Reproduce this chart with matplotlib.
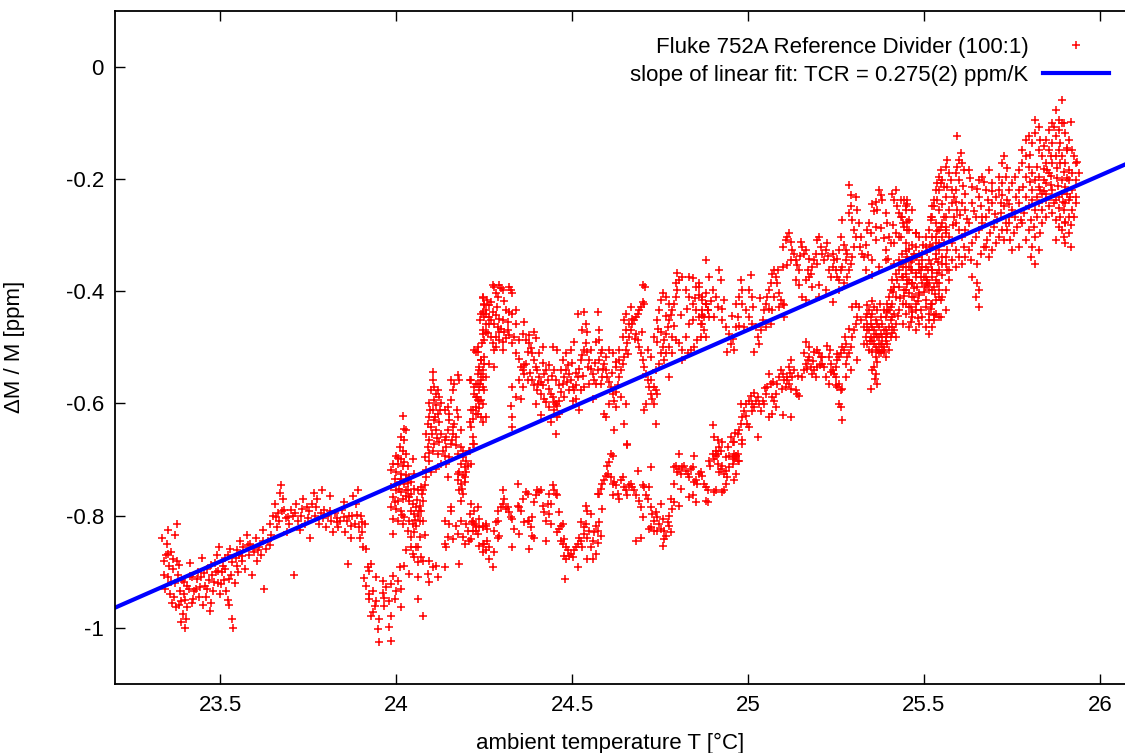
import numpy as np
import matplotlib
matplotlib.use('Agg')
import matplotlib.pyplot as plt
from matplotlib.ticker import FormatStrFormatter

# Ratio deviation dM/M [ppm] against ambient temperature T [degC], grouped by part of the run

cool_plateau = [
    (23.335, -0.84), (23.338, -0.88), (23.34, -0.905), (23.342, -0.93), (23.345, -0.87), (23.347, -0.85),
    (23.35, -0.825), (23.352, -0.91), (23.355, -0.89), (23.357, -0.94), (23.36, -0.865), (23.362, -0.955),
    (23.365, -0.895), (23.367, -0.945), (23.37, -0.835), (23.372, -0.92), (23.375, -0.815), (23.377, -0.88),
    (23.38, -0.905), (23.382, -0.96), (23.385, -0.935), (23.387, -0.99), (23.39, -0.915), (23.392, -0.975),
    (23.395, -0.94), (23.398, -1.0), (23.40, -0.95), (23.402, -0.985), (23.405, -0.925), (23.41, -0.93),
    (23.413, -0.885), (23.418, -0.955), (23.42, -0.91), (23.425, -0.935), (23.43, -0.93), (23.435, -0.9),
    (23.44, -0.945), (23.445, -0.91), (23.448, -0.875), (23.45, -0.96), (23.455, -0.925), (23.46, -0.945),
    (23.463, -0.895), (23.467, -0.915), (23.47, -0.97), (23.473, -0.955), (23.477, -0.905), (23.48, -0.935),
    (23.483, -0.885), (23.487, -0.9), (23.49, -0.87), (23.493, -0.92), (23.497, -0.855), (23.50, -0.94),
    (23.503, -0.9), (23.506, -0.89), (23.51, -0.915), (23.513, -0.875), (23.516, -0.935), (23.52, -0.95),
    (23.522, -0.87), (23.525, -0.96), (23.528, -0.86), (23.53, -0.905), (23.533, -0.985), (23.536, -1.0),
    (23.54, -0.92), (23.543, -0.875), (23.546, -0.89), (23.55, -0.9), (23.553, -0.87), (23.556, -0.845),
    (23.56, -0.88), (23.565, -0.855), (23.57, -0.895), (23.575, -0.835), (23.58, -0.87), (23.585, -0.85),
    (23.59, -0.905), (23.595, -0.865), (23.60, -0.84), (23.605, -0.88), (23.61, -0.855), (23.615, -0.87),
    (23.62, -0.825), (23.625, -0.93), (23.63, -0.86), (23.635, -0.845), (23.64, -0.815), (23.645, -0.835),
    (23.65, -0.8), (23.655, -0.78), (23.66, -0.82), (23.663, -0.795), (23.667, -0.81), (23.67, -0.76),
    (23.673, -0.745), (23.677, -0.77), (23.68, -0.79), (23.685, -0.805), (23.69, -0.83), (23.695, -0.815),
    (23.70, -0.79), (23.705, -0.8), (23.71, -0.905), (23.715, -0.78), (23.72, -0.81), (23.725, -0.825),
    (23.73, -0.8), (23.735, -0.77), (23.74, -0.815), (23.745, -0.785), (23.75, -0.805), (23.755, -0.84),
    (23.76, -0.78), (23.765, -0.76), (23.77, -0.8), (23.775, -0.77), (23.78, -0.815), (23.785, -0.795),
    (23.79, -0.755), (23.795, -0.79), (23.80, -0.82), (23.805, -0.8), (23.81, -0.765), (23.815, -0.81),
    (23.82, -0.83), (23.825, -0.795), (23.83, -0.805), (23.835, -0.82), (23.84, -0.81), (23.845, -0.79),
    (23.85, -0.775), (23.855, -0.83), (23.86, -0.81), (23.865, -0.8), (23.87, -0.84), (23.875, -0.8),
    (23.878, -0.765), (23.882, -0.815), (23.886, -0.78), (23.89, -0.755), (23.893, -0.82), (23.896, -0.84),
    (23.90, -0.8), (23.903, -0.83), (23.906, -0.855), (23.91, -0.815), (23.915, -0.86),
    (23.352, -0.868), (23.358, -0.918), (23.366, -0.878), (23.373, -0.962), (23.381, -0.888), (23.389, -0.952),
    (23.397, -0.918), (23.404, -0.962), (23.412, -0.908), (23.422, -0.948), (23.432, -0.912), (23.442, -0.928),
    (23.452, -0.902), (23.462, -0.93), (23.472, -0.888), (23.482, -0.918), (23.492, -0.898), (23.502, -0.922),
    (23.512, -0.895), (23.524, -0.912), (23.534, -0.882), (23.548, -0.862), (23.562, -0.872), (23.578, -0.852),
    (23.592, -0.858), (23.606, -0.862), (23.622, -0.845), (23.642, -0.852), (23.658, -0.802), (23.676, -0.792),
    (23.692, -0.802), (23.712, -0.795), (23.732, -0.788), (23.752, -0.792), (23.772, -0.785), (23.792, -0.805),
    (23.812, -0.792), (23.832, -0.812), (23.852, -0.802), (23.872, -0.818), (23.888, -0.798), (23.902, -0.812),
]

first_drop = [
    (23.928, -0.886), (23.923, -0.898), (23.909, -0.911), (23.942, -0.909), (23.914, -0.925), (23.933, -0.934),
    (23.921, -0.940), (23.961, -0.937), (23.966, -0.946), (23.985, -0.922), (23.990, -0.907), (24.009, -0.892),
    (24.023, -0.889), (24.004, -0.916), (24.014, -0.931), (23.980, -0.952), (23.995, -0.949), (23.942, -0.952),
    (23.938, -0.961), (23.933, -0.972), (23.928, -0.978), (23.952, -0.984), (23.947, -1.002), (23.985, -0.978),
    (23.980, -0.999), (24.014, -0.963), (23.952, -1.026), (23.985, -1.023), (24.061, -0.949), (24.075, -0.978),
    (23.862, -0.886), (23.919, -0.892), (23.961, -0.916), (23.971, -0.928), (23.999, -0.934), (23.923, -0.949),
    (23.966, -0.961),
]

warmup_streaks = [
    (24.018, -0.623), (24.023, -0.645), (24.028, -0.648), (24.014, -0.660), (24.023, -0.666), (24.009, -0.678),
    (24.018, -0.684), (24.028, -0.690), (23.999, -0.693), (24.014, -0.699), (24.004, -0.708), (24.023, -0.705),
    (24.033, -0.711), (23.990, -0.708), (23.985, -0.719), (23.999, -0.722), (24.014, -0.725), (24.028, -0.728),
    (24.037, -0.731), (23.995, -0.734), (24.009, -0.740), (24.023, -0.743), (23.985, -0.749), (23.999, -0.755),
    (24.014, -0.758), (24.028, -0.755), (23.990, -0.767), (24.004, -0.773), (24.018, -0.770), (24.037, -0.767),
    (23.985, -0.785), (23.999, -0.788), (24.014, -0.791), (23.990, -0.806), (24.004, -0.809), (24.023, -0.803),
    (23.990, -0.833), (24.018, -0.815), (24.047, -0.699), (24.051, -0.725), (24.042, -0.740),
    (24.033, -0.755), (24.042, -0.761), (24.051, -0.752), (24.061, -0.755), (24.070, -0.749), (24.080, -0.746),
    (24.037, -0.773), (24.047, -0.779), (24.056, -0.785), (24.066, -0.782), (24.075, -0.773), (24.042, -0.791),
    (24.051, -0.797), (24.061, -0.800), (24.070, -0.791), (24.037, -0.809), (24.047, -0.815), (24.056, -0.818),
    (24.066, -0.809), (24.033, -0.827), (24.051, -0.830), (24.042, -0.838), (24.066, -0.838), (24.056, -0.856),
    (24.047, -0.868), (24.070, -0.874), (24.080, -0.835), (24.061, -0.883), (24.028, -0.862), (24.042, -0.856),
    (24.075, -0.809), (24.085, -0.731), (24.075, -0.755),
    (24.104, -0.544), (24.104, -0.559), (24.108, -0.571), (24.099, -0.577), (24.113, -0.583), (24.118, -0.577),
    (24.122, -0.588), (24.108, -0.594), (24.094, -0.600), (24.113, -0.603), (24.127, -0.600), (24.104, -0.612),
    (24.118, -0.618), (24.094, -0.624), (24.108, -0.630), (24.122, -0.633), (24.099, -0.642), (24.113, -0.648),
    (24.127, -0.654), (24.089, -0.636), (24.085, -0.654), (24.094, -0.666), (24.108, -0.672), (24.122, -0.669),
    (24.137, -0.666), (24.089, -0.678), (24.104, -0.684), (24.118, -0.690), (24.132, -0.684), (24.080, -0.696),
    (24.094, -0.702), (24.141, -0.678), (24.085, -0.719), (24.099, -0.722), (24.113, -0.716), (24.127, -0.708),
    (24.137, -0.612), (24.146, -0.606), (24.156, -0.594), (24.160, -0.577), (24.165, -0.565), (24.156, -0.559),
    (24.175, -0.550), (24.179, -0.559), (24.151, -0.630), (24.165, -0.636), (24.175, -0.624), (24.146, -0.648),
    (24.160, -0.654), (24.170, -0.660), (24.184, -0.648), (24.141, -0.660), (24.156, -0.672), (24.170, -0.675),
    (24.137, -0.693), (24.151, -0.696), (24.141, -0.708), (24.146, -0.731), (24.184, -0.678), (24.175, -0.690),
    (24.189, -0.684),
    (24.189, -0.696), (24.198, -0.702), (24.184, -0.708), (24.194, -0.713), (24.203, -0.711), (24.179, -0.722),
    (24.189, -0.728), (24.198, -0.722), (24.175, -0.737), (24.184, -0.743), (24.194, -0.740), (24.179, -0.755),
    (24.189, -0.761), (24.184, -0.773), (24.212, -0.708), (24.208, -0.684), (24.217, -0.672), (24.175, -0.725),
    (24.246, -0.410), (24.250, -0.425), (24.255, -0.434), (24.241, -0.440), (24.250, -0.446), (24.255, -0.458),
    (24.246, -0.469), (24.260, -0.475), (24.250, -0.487), (24.231, -0.499), (24.227, -0.508), (24.241, -0.523),
    (24.236, -0.535), (24.246, -0.541), (24.231, -0.547), (24.241, -0.559), (24.227, -0.565), (24.246, -0.571),
    (24.236, -0.577), (24.222, -0.583), (24.231, -0.594), (24.208, -0.559), (24.241, -0.594), (24.227, -0.606),
    (24.212, -0.612), (24.231, -0.618), (24.217, -0.627), (24.208, -0.633), (24.236, -0.609), (24.255, -0.624),
    (24.250, -0.529), (24.255, -0.553),
    (24.005, -0.698), (24.012, -0.735), (24.020, -0.712), (24.026, -0.765), (24.008, -0.752), (24.016, -0.798),
    (23.995, -0.775), (24.032, -0.742), (24.058, -0.772), (24.064, -0.792), (24.053, -0.808), (24.072, -0.762),
    (24.097, -0.612), (24.111, -0.625), (24.102, -0.655), (24.116, -0.662), (24.124, -0.612), (24.092, -0.688),
    (24.149, -0.618), (24.162, -0.642), (24.171, -0.612), (24.158, -0.665), (24.186, -0.752), (24.196, -0.732),
    (24.238, -0.452), (24.244, -0.492), (24.239, -0.565), (24.228, -0.588),
]

lower_branch_a = [
    (24.137, -0.809), (24.151, -0.815), (24.146, -0.838), (24.160, -0.841), (24.170, -0.818), (24.184, -0.809),
    (24.198, -0.815), (24.208, -0.797), (24.217, -0.809), (24.227, -0.827), (24.236, -0.821), (24.246, -0.818),
    (24.255, -0.815), (24.189, -0.838), (24.141, -0.856), (24.137, -0.850), (24.179, -0.886), (24.246, -0.850),
    (24.255, -0.862), (24.156, -0.791), (24.156, -0.785), (24.061, -0.856), (24.051, -0.874), (24.075, -0.880),
    (24.094, -0.880), (24.104, -0.892), (24.113, -0.889), (24.137, -0.892), (24.089, -0.904), (24.061, -0.910),
    (24.094, -0.919), (24.118, -0.910), (24.037, -0.904), (24.203, -0.827), (24.212, -0.841), (24.222, -0.815),
    (24.194, -0.850), (24.175, -0.833),
]

lower_branch_b = [
    (24.212, -0.779), (24.221, -0.791), (24.231, -0.785), (24.215, -0.812), (24.226, -0.818), (24.236, -0.806),
    (24.245, -0.821), (24.255, -0.818), (24.259, -0.824), (24.217, -0.827), (24.231, -0.833), (24.207, -0.845),
    (24.236, -0.854), (24.250, -0.851), (24.259, -0.845), (24.264, -0.856), (24.245, -0.865), (24.264, -0.877),
    (24.274, -0.891), (24.278, -0.865), (24.278, -0.827), (24.283, -0.812), (24.288, -0.809), (24.288, -0.791),
    (24.293, -0.836),
    (24.302, -0.755), (24.307, -0.770), (24.302, -0.779), (24.297, -0.785), (24.312, -0.788), (24.321, -0.794),
    (24.326, -0.803), (24.330, -0.806), (24.345, -0.743), (24.345, -0.782), (24.349, -0.785), (24.354, -0.791),
    (24.359, -0.770), (24.368, -0.758), (24.373, -0.761), (24.378, -0.809), (24.383, -0.821), (24.387, -0.803),
    (24.392, -0.776), (24.397, -0.764), (24.401, -0.755), (24.406, -0.758), (24.411, -0.755), (24.416, -0.782),
    (24.420, -0.794), (24.425, -0.809), (24.430, -0.779), (24.435, -0.761), (24.439, -0.815), (24.444, -0.746),
    (24.449, -0.755), (24.454, -0.761), (24.458, -0.764), (24.463, -0.794), (24.468, -0.818), (24.435, -0.797),
    (24.439, -0.779), (24.349, -0.833), (24.387, -0.836), (24.392, -0.839), (24.330, -0.856), (24.378, -0.859),
    (24.425, -0.845), (24.364, -0.812), (24.373, -0.809), (24.335, -0.824), (24.316, -0.785), (24.288, -0.839),
    (24.458, -0.830), (24.463, -0.824), (24.473, -0.815),
    (24.468, -0.845), (24.473, -0.851), (24.477, -0.842), (24.482, -0.856), (24.487, -0.862), (24.491, -0.871),
    (24.496, -0.868), (24.501, -0.874), (24.477, -0.871), (24.482, -0.877), (24.506, -0.862), (24.510, -0.856),
    (24.515, -0.851), (24.520, -0.839), (24.525, -0.845), (24.529, -0.856), (24.525, -0.812), (24.534, -0.821),
    (24.539, -0.815), (24.539, -0.782), (24.543, -0.791), (24.548, -0.827), (24.553, -0.856), (24.558, -0.845),
    (24.562, -0.830), (24.567, -0.818), (24.572, -0.827), (24.576, -0.812), (24.581, -0.836), (24.567, -0.868),
    (24.558, -0.877), (24.572, -0.848), (24.543, -0.877), (24.515, -0.892), (24.480, -0.913), (24.553, -0.797),
    (24.543, -0.839), (24.534, -0.833),
    (24.576, -0.761), (24.581, -0.752), (24.586, -0.743), (24.591, -0.737), (24.596, -0.729), (24.600, -0.711),
    (24.605, -0.705), (24.610, -0.690), (24.615, -0.693), (24.603, -0.726), (24.610, -0.731), (24.615, -0.743),
    (24.619, -0.740), (24.624, -0.746), (24.629, -0.761), (24.634, -0.770), (24.638, -0.737), (24.643, -0.731),
    (24.648, -0.749), (24.652, -0.755), (24.657, -0.764), (24.662, -0.746), (24.667, -0.743), (24.671, -0.749),
    (24.676, -0.755), (24.681, -0.764), (24.686, -0.720), (24.690, -0.773), (24.695, -0.785), (24.700, -0.746),
    (24.705, -0.749), (24.709, -0.764), (24.714, -0.770), (24.719, -0.749), (24.723, -0.714), (24.681, -0.845),
    (24.695, -0.839), (24.700, -0.803), (24.586, -0.788), (24.572, -0.761), (24.615, -0.764), (24.657, -0.675),
    (24.723, -0.785), (24.728, -0.797), (24.733, -0.809), (24.738, -0.794), (24.742, -0.803), (24.747, -0.815),
    (24.752, -0.824), (24.757, -0.806), (24.761, -0.827), (24.766, -0.836), (24.771, -0.812), (24.776, -0.818),
    (24.780, -0.830), (24.761, -0.842), (24.757, -0.854), (24.776, -0.800), (24.785, -0.788), (24.723, -0.821),
    (24.719, -0.824), (24.733, -0.827), (24.742, -0.827), (24.752, -0.779), (24.780, -0.770), (24.790, -0.776),
    (24.804, -0.782),
    (24.790, -0.714), (24.795, -0.711), (24.799, -0.723), (24.804, -0.717), (24.809, -0.726), (24.813, -0.714),
    (24.818, -0.711), (24.823, -0.720), (24.828, -0.726), (24.832, -0.731), (24.837, -0.717), (24.842, -0.714),
    (24.847, -0.740), (24.851, -0.737), (24.856, -0.743), (24.861, -0.726), (24.866, -0.723), (24.870, -0.729),
    (24.875, -0.743), (24.880, -0.749), (24.885, -0.755), (24.889, -0.702), (24.891, -0.711), (24.899, -0.690),
    (24.903, -0.699), (24.908, -0.693), (24.913, -0.708), (24.918, -0.723), (24.922, -0.717), (24.927, -0.711),
    (24.932, -0.726), (24.937, -0.720), (24.941, -0.731), (24.946, -0.714), (24.956, -0.708), (24.960, -0.699),
    (24.965, -0.693), (24.970, -0.690), (24.974, -0.702), (24.965, -0.726), (24.960, -0.737), (24.937, -0.743),
    (24.927, -0.758), (24.932, -0.755), (24.908, -0.755), (24.903, -0.758), (24.885, -0.776), (24.880, -0.773),
    (24.851, -0.776), (24.842, -0.764), (24.832, -0.767), (24.790, -0.743), (24.809, -0.752), (24.804, -0.690),
    (24.847, -0.693), (24.922, -0.684), (24.960, -0.669), (24.984, -0.672),
]

upper_branch_a = [
    (24.212, -0.559), (24.221, -0.571), (24.231, -0.565), (24.236, -0.541), (24.240, -0.547), (24.245, -0.553),
    (24.226, -0.589), (24.236, -0.595), (24.245, -0.601), (24.217, -0.6125), (24.226, -0.618), (24.240, -0.624),
    (24.245, -0.633), (24.212, -0.642), (24.217, -0.660), (24.221, -0.672), (24.207, -0.684), (24.250, -0.577),
    (24.231, -0.508), (24.221, -0.505),
    (24.245, -0.413), (24.250, -0.422), (24.259, -0.416), (24.264, -0.425), (24.269, -0.419), (24.274, -0.389),
    (24.278, -0.392), (24.293, -0.389), (24.297, -0.395), (24.283, -0.404), (24.288, -0.410), (24.302, -0.398),
    (24.321, -0.392), (24.326, -0.398), (24.330, -0.404), (24.245, -0.437), (24.255, -0.440), (24.264, -0.446),
    (24.274, -0.437), (24.283, -0.443), (24.293, -0.449), (24.302, -0.452), (24.312, -0.434), (24.321, -0.437),
    (24.330, -0.440), (24.340, -0.434), (24.264, -0.458), (24.278, -0.458), (24.288, -0.464), (24.297, -0.467),
    (24.307, -0.473), (24.316, -0.470), (24.255, -0.473), (24.245, -0.476), (24.269, -0.482), (24.283, -0.482),
    (24.293, -0.487), (24.302, -0.490), (24.312, -0.484), (24.321, -0.479), (24.330, -0.493), (24.340, -0.458),
    (24.335, -0.482), (24.349, -0.487), (24.359, -0.476), (24.364, -0.455), (24.278, -0.505), (24.264, -0.529),
    (24.278, -0.535), (24.250, -0.517), (24.283, -0.499), (24.302, -0.505), (24.240, -0.523),
    (24.340, -0.511), (24.349, -0.520), (24.354, -0.535), (24.359, -0.541), (24.364, -0.547), (24.368, -0.529),
    (24.373, -0.508), (24.378, -0.493), (24.383, -0.502), (24.387, -0.511), (24.392, -0.523), (24.397, -0.535),
    (24.401, -0.541), (24.406, -0.553), (24.411, -0.562), (24.416, -0.568), (24.420, -0.547), (24.425, -0.541),
    (24.430, -0.559), (24.435, -0.574), (24.439, -0.583), (24.444, -0.589), (24.449, -0.598), (24.454, -0.601),
    (24.458, -0.604), (24.463, -0.595), (24.468, -0.580), (24.473, -0.565), (24.477, -0.553), (24.482, -0.541),
    (24.487, -0.532), (24.491, -0.547), (24.496, -0.559), (24.501, -0.571), (24.506, -0.577), (24.510, -0.568),
    (24.515, -0.553), (24.520, -0.538), (24.525, -0.523), (24.529, -0.514), (24.534, -0.505), (24.539, -0.493),
    (24.543, -0.508), (24.548, -0.523), (24.553, -0.538), (24.558, -0.547), (24.562, -0.559), (24.567, -0.565),
    (24.572, -0.541), (24.576, -0.523), (24.581, -0.511), (24.586, -0.505), (24.349, -0.559), (24.359, -0.571),
    (24.373, -0.559), (24.387, -0.559), (24.392, -0.568), (24.401, -0.577), (24.411, -0.583), (24.420, -0.592),
    (24.425, -0.598), (24.435, -0.607), (24.449, -0.6125), (24.458, -0.624), (24.463, -0.618), (24.477, -0.589),
    (24.491, -0.577), (24.501, -0.595), (24.510, -0.592), (24.525, -0.577), (24.534, -0.571), (24.548, -0.565),
    (24.558, -0.592), (24.520, -0.6125), (24.330, -0.571), (24.340, -0.589), (24.354, -0.592), (24.326, -0.604),
    (24.406, -0.511), (24.416, -0.499), (24.444, -0.499), (24.458, -0.505), (24.473, -0.523), (24.482, -0.511),
    (24.496, -0.505), (24.506, -0.490), (24.529, -0.470), (24.539, -0.458), (24.515, -0.440), (24.534, -0.437),
    (24.572, -0.437), (24.576, -0.470), (24.567, -0.490), (24.553, -0.505), (24.368, -0.487), (24.378, -0.479),
    (24.397, -0.484), (24.392, -0.473), (24.435, -0.532), (24.449, -0.541), (24.454, -0.559), (24.468, -0.541),
    (24.330, -0.642), (24.330, -0.624), (24.454, -0.654), (24.439, -0.633), (24.411, -0.621), (24.397, -0.601),
    (24.591, -0.529), (24.596, -0.541), (24.600, -0.553), (24.605, -0.562), (24.610, -0.571), (24.615, -0.583),
    (24.619, -0.595), (24.624, -0.580), (24.629, -0.568), (24.634, -0.553), (24.638, -0.541), (24.643, -0.529),
    (24.648, -0.517), (24.652, -0.505), (24.657, -0.493), (24.662, -0.482), (24.667, -0.470), (24.671, -0.458),
    (24.676, -0.452), (24.681, -0.446), (24.686, -0.440), (24.690, -0.434), (24.695, -0.428), (24.700, -0.419),
    (24.705, -0.422), (24.707, -0.392), (24.701, -0.389), (24.681, -0.476), (24.686, -0.487), (24.690, -0.499),
    (24.695, -0.511), (24.700, -0.523), (24.705, -0.535), (24.709, -0.547), (24.714, -0.559), (24.719, -0.571),
    (24.723, -0.583), (24.728, -0.592), (24.733, -0.601), (24.723, -0.559), (24.733, -0.571), (24.738, -0.577),
    (24.742, -0.583), (24.738, -0.541), (24.747, -0.529), (24.752, -0.511), (24.757, -0.499), (24.761, -0.487),
    (24.766, -0.476), (24.771, -0.464), (24.776, -0.452), (24.780, -0.443), (24.785, -0.434), (24.790, -0.422),
    (24.795, -0.410), (24.799, -0.398), (24.795, -0.386), (24.804, -0.380), (24.799, -0.368), (24.813, -0.374),
    (24.832, -0.374), (24.842, -0.377), (24.851, -0.392), (24.861, -0.407), (24.870, -0.416), (24.880, -0.422),
    (24.885, -0.434), (24.889, -0.446), (24.823, -0.398), (24.832, -0.410), (24.842, -0.422), (24.851, -0.434),
    (24.861, -0.446), (24.870, -0.458), (24.875, -0.470), (24.880, -0.482), (24.866, -0.482), (24.856, -0.487),
    (24.847, -0.499), (24.837, -0.505), (24.828, -0.511), (24.813, -0.505), (24.804, -0.493), (24.795, -0.487),
    (24.785, -0.482), (24.776, -0.499), (24.766, -0.511), (24.761, -0.523), (24.752, -0.416), (24.757, -0.404),
    (24.766, -0.410), (24.776, -0.422), (24.747, -0.434), (24.742, -0.452), (24.752, -0.473), (24.624, -0.535),
    (24.615, -0.511), (24.605, -0.505), (24.596, -0.517), (24.586, -0.553), (24.581, -0.565), (24.605, -0.601),
    (24.591, -0.618), (24.596, -0.624), (24.624, -0.607), (24.638, -0.589), (24.652, -0.601), (24.705, -0.6125),
    (24.709, -0.601), (24.648, -0.636), (24.619, -0.648), (24.657, -0.672), (24.738, -0.636), (24.543, -0.473),
    (24.576, -0.487), (24.643, -0.482), (24.652, -0.470), (24.662, -0.458), (24.671, -0.449), (24.634, -0.505),
    (24.624, -0.526), (24.723, -0.517), (24.733, -0.482), (24.742, -0.490), (24.776, -0.553), (24.785, -0.511),
    (24.813, -0.523), (24.823, -0.482), (24.832, -0.458), (24.842, -0.452), (24.870, -0.434), (24.880, -0.404),
    (24.861, -0.386), (24.667, -0.428), (24.652, -0.440), (24.648, -0.452),
    (24.268, -0.452), (24.286, -0.428), (24.306, -0.418), (24.318, -0.455), (24.292, -0.472), (24.276, -0.492),
    (24.362, -0.532), (24.381, -0.545), (24.404, -0.565), (24.418, -0.528), (24.442, -0.552), (24.461, -0.568),
    (24.485, -0.562), (24.498, -0.528), (24.512, -0.545), (24.532, -0.552), (24.546, -0.535), (24.565, -0.528),
    (24.588, -0.538), (24.612, -0.545), (24.632, -0.522), (24.659, -0.512), (24.678, -0.485), (24.698, -0.472),
    (24.716, -0.505), (24.745, -0.468), (24.768, -0.445), (24.788, -0.462), (24.808, -0.442), (24.826, -0.432),
    (24.848, -0.412), (24.868, -0.442),
]

upper_branch_b = [
    (24.861, -0.392), (24.870, -0.410), (24.880, -0.422), (24.885, -0.434), (24.875, -0.446), (24.866, -0.458),
    (24.889, -0.374), (24.899, -0.398), (24.908, -0.410), (24.918, -0.363), (24.922, -0.380), (24.913, -0.428),
    (24.903, -0.446), (24.927, -0.452), (24.937, -0.464), (24.946, -0.476), (24.956, -0.485), (24.951, -0.494),
    (24.941, -0.508), (24.960, -0.505), (24.965, -0.464), (24.970, -0.446), (24.965, -0.422), (24.974, -0.410),
    (24.979, -0.380), (24.984, -0.398), (24.993, -0.434), (25.003, -0.446), (25.012, -0.458), (25.022, -0.464),
    (25.027, -0.482), (25.031, -0.494), (25.017, -0.508), (25.036, -0.470), (25.041, -0.452), (25.045, -0.434),
    (25.050, -0.422), (25.055, -0.410), (25.060, -0.398), (25.064, -0.386), (25.069, -0.369), (25.074, -0.363),
    (25.079, -0.374), (25.083, -0.386), (25.088, -0.404), (25.093, -0.416), (25.098, -0.422), (25.102, -0.425),
    (25.102, -0.446), (25.003, -0.398), (25.012, -0.410), (24.989, -0.464), (25.050, -0.464), (25.064, -0.458),
    (25.069, -0.434), (25.088, -0.428), (25.074, -0.410), (24.880, -0.345), (25.008, -0.3715), (24.932, -0.416),
    (24.984, -0.422),
    (25.098, -0.321), (25.107, -0.309), (25.112, -0.303), (25.116, -0.297), (25.121, -0.312), (25.126, -0.327),
    (25.131, -0.333), (25.135, -0.345), (25.140, -0.354), (25.145, -0.363), (25.150, -0.312), (25.154, -0.321),
    (25.159, -0.333), (25.164, -0.327), (25.169, -0.363), (25.173, -0.374), (25.178, -0.369), (25.183, -0.357),
    (25.188, -0.345), (25.192, -0.333), (25.197, -0.309), (25.202, -0.303), (25.206, -0.321), (25.211, -0.333),
    (25.216, -0.345), (25.221, -0.327), (25.225, -0.315), (25.230, -0.363), (25.235, -0.374), (25.240, -0.357),
    (25.244, -0.345), (25.249, -0.363), (25.254, -0.374), (25.258, -0.380), (25.263, -0.363), (25.268, -0.357),
    (25.273, -0.386), (25.277, -0.345), (25.282, -0.333), (25.287, -0.261), (25.292, -0.249), (25.296, -0.273),
    (25.301, -0.291), (25.306, -0.303), (25.301, -0.321), (25.296, -0.339), (25.292, -0.351), (25.287, -0.363),
    (25.282, -0.374), (25.277, -0.327), (25.268, -0.273), (25.263, -0.303), (25.258, -0.327), (25.240, -0.333),
    (25.221, -0.398), (25.202, -0.410), (25.183, -0.392), (25.164, -0.380), (25.135, -0.380), (25.145, -0.389),
    (25.154, -0.410), (25.098, -0.357), (25.112, -0.354), (25.202, -0.389), (25.258, -0.398), (25.240, -0.419),
    (25.164, -0.416), (25.287, -0.211), (25.292, -0.229), (25.306, -0.232), (25.311, -0.255), (25.315, -0.279),
    (25.320, -0.303), (25.325, -0.333), (25.330, -0.339), (25.334, -0.318), (25.339, -0.291), (25.344, -0.279),
    (25.348, -0.297), (25.353, -0.244), (25.358, -0.258), (25.363, -0.241), (25.367, -0.255), (25.372, -0.220),
    (25.377, -0.229), (25.382, -0.238), (25.391, -0.261), (25.396, -0.279), (25.401, -0.303), (25.405, -0.315),
    (25.410, -0.226), (25.415, -0.238), (25.420, -0.220), (25.424, -0.249), (25.429, -0.261), (25.434, -0.267),
    (25.439, -0.279), (25.448, -0.255), (25.453, -0.291), (25.457, -0.273), (25.420, -0.297), (25.415, -0.315),
    (25.391, -0.327), (25.353, -0.345), (25.334, -0.363), (25.353, -0.3715), (25.372, -0.357), (25.391, -0.345),
    (25.386, -0.306), (25.377, -0.288), (25.363, -0.309), (25.429, -0.303), (25.443, -0.238), (25.453, -0.244),
    (25.467, -0.255), (25.476, -0.297),
    (24.895, -0.418), (24.925, -0.432), (24.955, -0.445), (24.975, -0.462), (25.015, -0.428), (25.035, -0.412),
    (25.058, -0.432), (25.085, -0.362), (25.122, -0.345), (25.148, -0.338), (25.172, -0.342), (25.195, -0.352),
    (25.228, -0.338), (25.252, -0.342), (25.272, -0.318), (25.318, -0.322), (25.342, -0.335), (25.365, -0.285),
    (25.398, -0.342), (25.412, -0.282),
]

lower_branch_c = [
    (24.899, -0.639), (24.903, -0.660), (24.908, -0.684), (24.913, -0.690), (24.918, -0.678), (24.927, -0.669),
    (24.937, -0.696), (24.946, -0.693), (24.956, -0.696), (24.960, -0.690), (24.965, -0.693), (24.970, -0.702),
    (24.951, -0.660), (24.956, -0.669), (24.970, -0.654), (24.974, -0.648), (24.979, -0.636), (24.984, -0.624),
    (24.989, -0.613), (24.993, -0.601), (25.003, -0.595), (25.008, -0.586), (25.012, -0.601), (25.017, -0.607),
    (25.022, -0.595), (25.027, -0.589), (25.031, -0.601), (25.036, -0.613), (25.041, -0.595), (25.045, -0.601),
    (25.050, -0.583), (25.055, -0.571), (25.060, -0.547), (25.064, -0.565), (25.069, -0.589), (25.074, -0.595),
    (25.079, -0.583), (25.083, -0.565), (25.088, -0.553), (25.093, -0.541), (25.098, -0.547), (25.102, -0.559),
    (25.107, -0.571), (25.112, -0.559), (25.116, -0.565), (25.121, -0.574), (25.126, -0.553), (25.131, -0.541),
    (25.135, -0.577), (25.140, -0.583), (25.145, -0.586), (25.060, -0.624), (25.069, -0.618), (25.079, -0.607),
    (25.098, -0.621), (25.121, -0.624), (25.027, -0.660), (25.012, -0.613), (24.984, -0.666), (24.979, -0.601),
    (24.998, -0.636), (25.003, -0.642), (25.154, -0.553), (25.159, -0.541), (25.164, -0.529), (25.169, -0.523),
    (25.173, -0.517), (25.178, -0.535), (25.183, -0.547), (25.188, -0.541), (25.192, -0.553), (25.159, -0.511),
    (25.164, -0.491), (25.173, -0.499), (25.188, -0.508), (25.197, -0.505), (25.202, -0.511), (25.206, -0.517),
    (25.211, -0.529), (25.216, -0.535), (25.225, -0.497), (25.230, -0.517), (25.235, -0.529), (25.240, -0.541),
    (25.244, -0.547), (25.249, -0.535), (25.254, -0.523), (25.258, -0.517), (25.263, -0.511), (25.268, -0.499),
    (25.273, -0.505), (25.277, -0.494), (25.282, -0.517), (25.221, -0.553), (25.230, -0.565), (25.235, -0.544),
    (25.249, -0.553), (25.254, -0.571), (25.258, -0.565), (25.263, -0.577), (25.268, -0.574), (25.258, -0.601),
    (25.263, -0.607), (25.268, -0.630), (25.249, -0.568), (25.121, -0.523), (25.116, -0.535), (25.112, -0.553),
    (25.197, -0.535), (25.211, -0.517), (25.277, -0.529), (25.287, -0.511), (25.292, -0.499), (25.296, -0.482),
    (25.301, -0.470), (25.306, -0.458), (25.311, -0.446), (25.315, -0.428), (25.306, -0.422), (25.296, -0.428),
    (25.311, -0.523), (25.292, -0.541), (25.277, -0.553),
    (25.334, -0.446), (25.339, -0.458), (25.344, -0.470), (25.348, -0.482), (25.353, -0.488), (25.358, -0.494),
    (25.363, -0.499), (25.367, -0.505), (25.372, -0.508), (25.377, -0.511), (25.382, -0.505), (25.386, -0.499),
    (25.391, -0.488), (25.396, -0.476), (25.401, -0.464), (25.405, -0.452), (25.410, -0.446), (25.415, -0.440),
    (25.420, -0.458), (25.415, -0.470), (25.405, -0.482), (25.396, -0.494), (25.386, -0.508), (25.377, -0.494),
    (25.367, -0.482), (25.358, -0.470), (25.348, -0.458), (25.339, -0.440), (25.344, -0.434), (25.353, -0.440),
    (25.363, -0.452), (25.372, -0.464), (25.382, -0.458), (25.391, -0.446), (25.401, -0.434), (25.405, -0.428),
    (25.396, -0.422), (25.386, -0.434), (25.377, -0.446), (25.367, -0.434), (25.358, -0.428), (25.348, -0.446),
    (25.334, -0.482), (25.339, -0.494), (25.344, -0.505), (25.353, -0.508), (25.363, -0.517), (25.367, -0.526),
    (25.358, -0.535), (25.363, -0.547), (25.353, -0.541), (25.361, -0.556), (25.367, -0.565), (25.348, -0.574),
    (25.372, -0.482), (25.382, -0.482), (25.391, -0.470), (25.410, -0.464), (25.420, -0.482), (25.339, -0.470),
    (25.330, -0.464), (25.330, -0.494), (25.401, -0.505), (25.391, -0.517), (25.377, -0.476), (25.353, -0.464),
    (25.363, -0.476), (25.372, -0.494), (25.382, -0.494), (25.391, -0.482), (25.367, -0.458), (25.386, -0.470),
    (25.358, -0.482),
    (24.915, -0.665), (24.942, -0.678), (24.962, -0.652), (24.995, -0.622), (25.018, -0.582), (25.048, -0.572),
    (25.072, -0.562), (25.095, -0.575), (25.118, -0.545), (25.142, -0.552), (25.168, -0.538), (25.185, -0.525),
    (25.205, -0.532), (25.232, -0.505), (25.252, -0.512), (25.275, -0.482), (25.288, -0.468), (25.322, -0.452),
    (25.338, -0.425), (25.352, -0.418), (25.375, -0.422), (25.395, -0.438), (25.408, -0.475), (25.346, -0.488),
]

warm_end_a = [
    (25.410, -0.380), (25.420, -0.369), (25.429, -0.363), (25.439, -0.357), (25.448, -0.369), (25.457, -0.380),
    (25.467, -0.386), (25.476, -0.374), (25.486, -0.363), (25.495, -0.357), (25.505, -0.374), (25.514, -0.386),
    (25.524, -0.398), (25.533, -0.380), (25.543, -0.363), (25.552, -0.351), (25.562, -0.339), (25.566, -0.327),
    (25.429, -0.392), (25.448, -0.398), (25.467, -0.410), (25.486, -0.404), (25.505, -0.416), (25.524, -0.422),
    (25.543, -0.410), (25.562, -0.398), (25.420, -0.410), (25.439, -0.422), (25.457, -0.428), (25.476, -0.434),
    (25.495, -0.446), (25.514, -0.452), (25.533, -0.440), (25.410, -0.422), (25.429, -0.434), (25.448, -0.440),
    (25.467, -0.446), (25.486, -0.458), (25.505, -0.464), (25.524, -0.464), (25.543, -0.446), (25.562, -0.434),
    (25.476, -0.470), (25.457, -0.464), (25.439, -0.458), (25.514, -0.476), (25.524, -0.363), (25.533, -0.333),
    (25.543, -0.315), (25.552, -0.303), (25.562, -0.285), (25.524, -0.303), (25.533, -0.279), (25.543, -0.255),
    (25.552, -0.244), (25.562, -0.232), (25.566, -0.214), (25.543, -0.220), (25.547, -0.208), (25.514, -0.291),
    (25.519, -0.273), (25.528, -0.249), (25.538, -0.238), (25.476, -0.339), (25.486, -0.333), (25.495, -0.345),
    (25.514, -0.345), (25.543, -0.386), (25.566, -0.363), (25.562, -0.297), (25.557, -0.267), (25.547, -0.285),
    (25.524, -0.267), (25.467, -0.363), (25.457, -0.357), (25.439, -0.374), (25.424, -0.380), (25.405, -0.398),
    (25.401, -0.410), (25.415, -0.392), (25.429, -0.345), (25.448, -0.345), (25.505, -0.321), (25.486, -0.303),
    (25.476, -0.321), (25.467, -0.339), (25.505, -0.303),
    (25.415, -0.352), (25.433, -0.412), (25.452, -0.388), (25.462, -0.348), (25.472, -0.395), (25.482, -0.418),
    (25.491, -0.375), (25.502, -0.392), (25.512, -0.362), (25.521, -0.432), (25.531, -0.405), (25.541, -0.348),
    (25.551, -0.372), (25.558, -0.315), (25.538, -0.292), (25.518, -0.318), (25.496, -0.318), (25.482, -0.448),
    (25.462, -0.455), (25.442, -0.408), (25.425, -0.445), (25.412, -0.402), (25.448, -0.328), (25.528, -0.452),
]

warm_end_b = [
    (25.434, -0.238), (25.448, -0.249), (25.453, -0.238), (25.438, -0.267), (25.453, -0.276), (25.443, -0.285),
    (25.457, -0.291), (25.434, -0.303), (25.448, -0.315), (25.467, -0.318), (25.476, -0.297), (25.438, -0.333),
    (25.453, -0.339), (25.467, -0.345), (25.481, -0.339), (25.495, -0.333), (25.509, -0.330), (25.524, -0.321),
    (25.533, -0.315), (25.434, -0.351), (25.448, -0.357), (25.462, -0.363), (25.476, -0.368), (25.491, -0.363),
    (25.505, -0.357), (25.519, -0.351), (25.533, -0.342), (25.438, -0.374), (25.453, -0.380), (25.467, -0.386),
    (25.481, -0.392), (25.495, -0.386), (25.509, -0.380), (25.524, -0.374), (25.538, -0.368), (25.443, -0.398),
    (25.457, -0.404), (25.472, -0.410), (25.486, -0.407), (25.500, -0.401), (25.514, -0.398), (25.528, -0.392),
    (25.448, -0.422), (25.462, -0.428), (25.476, -0.422), (25.491, -0.434), (25.505, -0.428), (25.519, -0.422),
    (25.533, -0.416), (25.547, -0.416), (25.467, -0.437), (25.514, -0.440), (25.528, -0.443), (25.547, -0.446),
    (25.509, -0.389), (25.500, -0.374), (25.486, -0.351), (25.472, -0.333), (25.457, -0.324), (25.524, -0.363),
    (25.538, -0.386), (25.543, -0.398), (25.552, -0.410),
    (25.519, -0.267), (25.524, -0.249), (25.528, -0.238), (25.533, -0.220), (25.538, -0.208), (25.543, -0.196),
    (25.547, -0.184), (25.552, -0.202), (25.557, -0.214), (25.562, -0.178), (25.566, -0.166), (25.571, -0.190),
    (25.576, -0.202), (25.581, -0.220), (25.585, -0.232), (25.590, -0.190), (25.595, -0.178), (25.599, -0.166),
    (25.604, -0.154), (25.609, -0.172), (25.614, -0.184), (25.599, -0.202), (25.590, -0.220), (25.581, -0.243),
    (25.571, -0.255), (25.562, -0.267), (25.552, -0.279), (25.543, -0.291), (25.533, -0.303), (25.562, -0.291),
    (25.571, -0.303), (25.581, -0.315), (25.590, -0.327), (25.599, -0.339), (25.609, -0.351), (25.618, -0.339),
    (25.628, -0.327), (25.637, -0.315), (25.647, -0.303), (25.656, -0.291), (25.666, -0.279), (25.675, -0.267),
    (25.685, -0.255), (25.694, -0.243), (25.704, -0.232), (25.713, -0.220), (25.723, -0.208), (25.732, -0.196),
    (25.647, -0.267), (25.628, -0.279), (25.618, -0.291), (25.609, -0.303), (25.599, -0.291), (25.590, -0.279),
    (25.618, -0.255), (25.637, -0.243), (25.656, -0.232), (25.675, -0.220), (25.694, -0.208), (25.713, -0.196),
    (25.666, -0.196), (25.685, -0.184), (25.656, -0.202), (25.637, -0.214), (25.618, -0.226), (25.609, -0.243),
    (25.595, -0.255), (25.585, -0.267), (25.543, -0.327), (25.552, -0.339), (25.562, -0.351), (25.571, -0.363),
    (25.581, -0.345), (25.590, -0.357), (25.614, -0.321), (25.633, -0.345), (25.652, -0.351), (25.661, -0.333),
    (25.670, -0.321), (25.680, -0.309), (25.689, -0.297), (25.699, -0.285), (25.708, -0.273), (25.718, -0.261),
    (25.727, -0.249), (25.737, -0.238), (25.723, -0.291), (25.713, -0.303), (25.704, -0.315), (25.694, -0.327),
    (25.685, -0.339), (25.675, -0.321), (25.732, -0.279), (25.741, -0.267), (25.637, -0.374), (25.652, -0.386),
    (25.656, -0.398), (25.647, -0.410), (25.656, -0.428), (25.571, -0.380), (25.595, -0.124), (25.666, -0.267),
    (25.628, -0.184), (25.718, -0.243), (25.723, -0.172), (25.727, -0.160), (25.737, -0.181),
    (25.741, -0.220), (25.751, -0.208), (25.760, -0.196), (25.770, -0.184), (25.779, -0.172), (25.789, -0.160),
    (25.798, -0.178), (25.808, -0.190), (25.817, -0.202), (25.827, -0.214), (25.836, -0.226), (25.846, -0.238),
    (25.855, -0.249), (25.865, -0.261), (25.874, -0.273), (25.884, -0.285), (25.893, -0.291), (25.902, -0.279),
    (25.912, -0.267), (25.921, -0.255), (25.902, -0.243), (25.884, -0.232), (25.865, -0.220), (25.846, -0.208),
    (25.827, -0.196), (25.808, -0.220), (25.789, -0.232), (25.770, -0.243), (25.751, -0.255), (25.760, -0.267),
    (25.779, -0.279), (25.798, -0.291), (25.817, -0.303), (25.836, -0.279), (25.846, -0.267), (25.789, -0.196),
    (25.770, -0.220), (25.779, -0.148), (25.789, -0.130), (25.798, -0.124), (25.808, -0.136), (25.817, -0.118),
    (25.827, -0.107), (25.836, -0.160), (25.846, -0.172), (25.855, -0.148), (25.865, -0.136), (25.874, -0.124),
    (25.884, -0.113), (25.893, -0.101), (25.902, -0.118), (25.912, -0.130), (25.921, -0.148), (25.931, -0.172),
    (25.921, -0.190), (25.912, -0.202), (25.902, -0.214), (25.893, -0.226), (25.874, -0.238), (25.855, -0.190),
    (25.865, -0.172), (25.874, -0.160), (25.884, -0.148), (25.893, -0.160), (25.902, -0.172), (25.912, -0.184),
    (25.931, -0.202), (25.898, -0.187), (25.879, -0.199), (25.860, -0.211), (25.827, -0.243), (25.817, -0.255),
    (25.803, -0.273), (25.813, -0.285), (25.831, -0.297), (25.874, -0.309), (25.902, -0.315), (25.917, -0.321),
    (25.912, -0.297), (25.898, -0.303), (25.884, -0.252), (25.869, -0.243), (25.846, -0.226), (25.836, -0.255),
    (25.822, -0.267), (25.893, -0.202), (25.907, -0.226), (25.931, -0.232), (25.921, -0.220), (25.874, -0.077),
    (25.893, -0.059), (25.884, -0.095), (25.898, -0.101), (25.917, -0.098), (25.865, -0.101), (25.855, -0.113),
    (25.841, -0.142), (25.831, -0.130), (25.817, -0.095), (25.827, -0.148), (25.846, -0.130), (25.869, -0.107),
    (25.888, -0.136), (25.907, -0.145), (25.926, -0.160), (25.936, -0.169), (25.940, -0.190), (25.931, -0.243),
    (25.926, -0.267), (25.912, -0.238), (25.898, -0.255), (25.888, -0.267), (25.902, -0.276), (25.917, -0.282),
    (25.907, -0.148), (25.879, -0.181), (25.860, -0.160), (25.850, -0.184), (25.841, -0.202), (25.831, -0.220),
    (25.808, -0.238), (25.798, -0.249), (25.784, -0.261), (25.775, -0.273), (25.765, -0.285), (25.756, -0.297),
    (25.746, -0.309), (25.751, -0.327), (25.770, -0.321), (25.789, -0.309), (25.808, -0.321), (25.827, -0.327),
    (25.803, -0.339), (25.817, -0.351), (25.741, -0.279), (25.737, -0.291), (25.727, -0.309),
    (25.582, -0.282), (25.602, -0.265), (25.622, -0.272), (25.642, -0.258), (25.662, -0.248), (25.682, -0.238),
    (25.702, -0.262), (25.722, -0.228), (25.742, -0.245), (25.762, -0.232), (25.782, -0.215), (25.802, -0.205),
    (25.822, -0.232), (25.842, -0.222), (25.862, -0.232), (25.882, -0.212), (25.896, -0.242), (25.906, -0.198),
    (25.916, -0.232), (25.886, -0.172), (25.862, -0.195), (25.842, -0.182), (25.822, -0.178), (25.802, -0.158),
    (25.592, -0.242), (25.612, -0.212), (25.632, -0.198), (25.652, -0.218), (25.672, -0.205), (25.692, -0.222),
]

# linear fit: dM/M = TCR * (T - 25 degC) + offset
TCR = 0.275
OFFSET_25C = -0.469

x_ticks = [23.5, 24.0, 24.5, 25.0, 25.5, 26.0]
y_ticks = [-1.0, -0.8, -0.6, -0.4, -0.2, 0.0]

data_label = 'Fluke 752A Reference Divider (100:1)'
fit_label = 'slope of linear fit: TCR = 0.275(2) ppm/K'

plt.rcParams['font.family'] = ['Liberation Sans', 'DejaVu Sans']
plt.rcParams['axes.unicode_minus'] = False

segments = [cool_plateau, first_drop, warmup_streaks, lower_branch_a, lower_branch_b,
            upper_branch_a, upper_branch_b, lower_branch_c, warm_end_a, warm_end_b]
points = np.array([p for seg in segments for p in seg])
temp = points[:, 0]
dev = points[:, 1]

fig = plt.figure(figsize=(11.25, 7.53), dpi=100)
ax = fig.add_axes([0.1022, 0.0916, 0.9067, 0.8944])

ax.plot(temp, dev, linestyle='none', marker='+', color='#ff0000', ms=6, mew=1.1,
        label=data_label)

ax.set_xlim(23.2, 26.1)
ax.set_ylim(-1.1, 0.1)
t_fit = np.array(ax.get_xlim())
ax.plot(t_fit, TCR * (t_fit - 25.0) + OFFSET_25C, color='#0000ff', lw=3.0, label=fit_label)

ax.set_xticks(x_ticks)
ax.set_yticks(y_ticks)
ax.xaxis.set_major_formatter(FormatStrFormatter('%g'))
ax.yaxis.set_major_formatter(FormatStrFormatter('%g'))
ax.tick_params(direction='in', length=7, width=1.0, top=True, right=True,
               labelsize=16, pad=8, colors='black')
for s in ax.spines.values():
    s.set_linewidth(1.3)

ax.set_xlabel('ambient temperature T [°C]', fontsize=16)
ax.xaxis.set_label_coords(0.485, -0.073)
ax.set_ylabel('ΔM / M [ppm]', fontsize=16)
ax.yaxis.set_label_coords(-0.088, 0.5)

ax.legend(loc='upper right', bbox_to_anchor=(1109 / 1125, 0.951), bbox_transform=fig.transFigure,
          frameon=False, markerfirst=False, numpoints=1, fontsize=16, handlelength=2.95,
          handletextpad=0.68, labelspacing=0.3, borderpad=0, borderaxespad=0)

fig.savefig('out.png', dpi=100)
